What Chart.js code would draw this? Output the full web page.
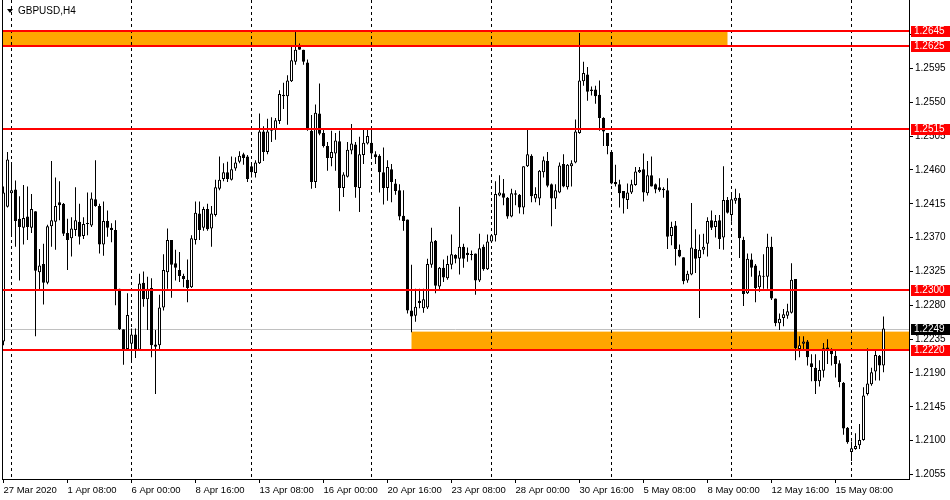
<!DOCTYPE html>
<html lang="en">
<head>
<meta charset="UTF-8">
<title>GBPUSD,H4</title>
<script src="https://cdn.jsdelivr.net/npm/chart.js"></script>
<style>
  html, body { margin: 0; padding: 0; background: #fff; }
</style>
</head>
<body>
<canvas id="chart" width="950" height="500"></canvas>
<script>
// ---- data ----
const symbol = 'GBPUSD,H4';

const opens = [
  1.2232,1.2411,1.2429,1.2434,1.2395,1.2383,1.2398,1.2383,1.2405,1.2324,
  1.2335,1.2310,1.2385,1.2391,1.2417,1.2415,1.2376,1.2369,1.2380,1.2391,
  1.2372,1.2388,1.2386,1.2421,1.2412,1.2361,1.2392,1.2383,1.2380,1.2302,
  1.2248,1.2222,1.2229,1.2241,1.2221,1.2310,1.2288,1.2303,1.2228,1.2227,
  1.2277,1.2324,1.2367,1.2336,1.2327,1.2319,1.2314,1.2304,1.2367,1.2402,
  1.2383,1.2408,1.2382,1.2400,1.2435,1.2448,1.2457,1.2447,1.2462,1.2471,
  1.2481,1.2478,1.2465,1.2456,1.2469,1.2511,1.2484,1.2515,1.2513,1.2525,
  1.2560,1.2558,1.2578,1.2604,1.2625,1.2620,1.2603,1.2512,1.2444,1.2535,
  1.2509,1.2492,1.2476,1.2482,1.2498,1.2436,1.2451,1.2486,1.2494,1.2436,
  1.2480,1.2495,1.2496,1.2481,1.2479,1.2457,1.2436,1.2461,1.2442,1.2433,
  1.2399,1.2394,1.2273,1.2266,1.2286,1.2276,1.2277,1.2334,1.2366,1.2305,
  1.2330,1.2316,1.2334,1.2347,1.2342,1.2358,1.2350,1.2347,1.2349,1.2313,
  1.2358,1.2328,1.2365,1.2373,1.2426,1.2429,1.2423,1.2398,1.2427,1.2427,
  1.2410,1.2465,1.2479,1.2422,1.2422,1.2457,1.2472,1.2441,1.2422,1.2430,
  1.2468,1.2437,1.2465,1.2470,1.2509,1.2578,1.2587,1.2565,1.2567,1.2560,
  1.2529,1.2509,1.2484,1.2444,1.2441,1.2432,1.2420,1.2430,1.2440,1.2457,
  1.2461,1.2429,1.2453,1.2441,1.2437,1.2435,1.2433,1.2372,1.2386,1.2354,
  1.2344,1.2313,1.2321,1.2355,1.2343,1.2354,1.2362,1.2393,1.2384,1.2393,
  1.2370,1.2420,1.2400,1.2419,1.2423,1.2367,1.2296,1.2341,1.2333,1.2304,
  1.2318,1.2318,1.2358,1.2289,1.2256,1.2263,1.2266,1.2270,1.2315,1.2222,
  1.2229,1.2232,1.2203,1.2197,1.2179,1.2193,1.2224,1.2221,1.2213,1.2203,
  1.2177,1.2117,1.2085,1.2089,1.2094,1.2101,1.2162,1.2175,1.2192,1.2213,
  1.2200
];
const highs = [
  1.2438,1.2484,1.2468,1.2446,1.2425,1.2440,1.2438,1.2428,1.2405,1.2355,
  1.2362,1.2387,1.2472,1.2450,1.2445,1.2416,1.2395,1.2397,1.2437,1.2415,
  1.2397,1.2430,1.2430,1.2473,1.2415,1.2418,1.2406,1.2389,1.2393,1.2302,
  1.2248,1.2296,1.2249,1.2249,1.2322,1.2325,1.2318,1.2316,1.2247,1.2294,
  1.2348,1.2382,1.2367,1.2354,1.2351,1.2322,1.2341,1.2373,1.2418,1.2418,
  1.2411,1.2415,1.2412,1.2447,1.2478,1.2469,1.2471,1.2478,1.2477,1.2485,
  1.2483,1.2480,1.2470,1.2473,1.2535,1.2518,1.2528,1.2530,1.2529,1.2566,
  1.2576,1.2586,1.2626,1.2644,1.2628,1.2620,1.2607,1.2533,1.2547,1.2575,
  1.2515,1.2497,1.2512,1.2509,1.2512,1.2457,1.2497,1.2521,1.2497,1.2504,
  1.2515,1.2515,1.2515,1.2485,1.2481,1.2490,1.2473,1.2468,1.2448,1.2441,
  1.2433,1.2394,1.2334,1.2302,1.2302,1.2302,1.2342,1.2383,1.2367,1.2331,
  1.2341,1.2346,1.2374,1.2348,1.2411,1.2362,1.2357,1.2353,1.2349,1.2375,
  1.2361,1.2374,1.2374,1.2445,1.2453,1.2448,1.2424,1.2435,1.2433,1.2428,
  1.2465,1.2515,1.2481,1.2437,1.2460,1.2478,1.2484,1.2442,1.2441,1.2470,
  1.2481,1.2468,1.2473,1.2527,1.2642,1.2604,1.2597,1.2571,1.2572,1.2579,
  1.2530,1.2509,1.2484,1.2467,1.2447,1.2432,1.2442,1.2447,1.2464,1.2464,
  1.2482,1.2472,1.2478,1.2442,1.2449,1.2437,1.2449,1.2391,1.2392,1.2361,
  1.2344,1.2326,1.2416,1.2381,1.2374,1.2375,1.2397,1.2406,1.2400,1.2400,
  1.2465,1.2424,1.2429,1.2435,1.2429,1.2371,1.2349,1.2349,1.2335,1.2326,
  1.2348,1.2375,1.2371,1.2289,1.2269,1.2275,1.2282,1.2336,1.2315,1.2239,
  1.2239,1.2234,1.2215,1.2215,1.2207,1.2230,1.2235,1.2223,1.2221,1.2207,
  1.2178,1.2118,1.2099,1.2110,1.2122,1.2171,1.2223,1.2197,1.2220,1.2214,
  1.2265
];
const lows = [
  1.2227,1.2410,1.2371,1.2358,1.2313,1.2361,1.2367,1.2376,1.2239,1.2301,
  1.2281,1.2308,1.2358,1.2354,1.2393,1.2372,1.2327,1.2345,1.2372,1.2361,
  1.2368,1.2373,1.2384,1.2411,1.2349,1.2346,1.2371,1.2364,1.2280,1.2247,
  1.2201,1.2220,1.2204,1.2210,1.2220,1.2278,1.2247,1.2211,1.2162,1.2222,
  1.2273,1.2302,1.2290,1.2313,1.2311,1.2304,1.2284,1.2303,1.2361,1.2367,
  1.2379,1.2379,1.2358,1.2398,1.2433,1.2445,1.2444,1.2446,1.2459,1.2469,
  1.2467,1.2444,1.2450,1.2450,1.2468,1.2472,1.2481,1.2497,1.2500,1.2521,
  1.2541,1.2520,1.2577,1.2600,1.2620,1.2600,1.2512,1.2435,1.2436,1.2506,
  1.2490,1.2459,1.2465,1.2459,1.2405,1.2424,1.2450,1.2481,1.2423,1.2404,
  1.2468,1.2494,1.2477,1.2468,1.2430,1.2414,1.2419,1.2417,1.2427,1.2393,
  1.2379,1.2269,1.2244,1.2258,1.2276,1.2270,1.2275,1.2330,1.2296,1.2300,
  1.2311,1.2314,1.2328,1.2336,1.2321,1.2330,1.2338,1.2340,1.2294,1.2311,
  1.2326,1.2327,1.2364,1.2365,1.2425,1.2413,1.2395,1.2397,1.2413,1.2402,
  1.2401,1.2464,1.2417,1.2417,1.2413,1.2450,1.2437,1.2385,1.2408,1.2429,
  1.2437,1.2434,1.2438,1.2469,1.2508,1.2572,1.2552,1.2559,1.2548,1.2512,
  1.2492,1.2481,1.2441,1.2438,1.2410,1.2402,1.2408,1.2428,1.2439,1.2456,
  1.2418,1.2426,1.2438,1.2429,1.2431,1.2423,1.2355,1.2360,1.2333,1.2344,
  1.2308,1.2310,1.2320,1.2323,1.2263,1.2348,1.2345,1.2380,1.2370,1.2355,
  1.2354,1.2402,1.2391,1.2415,1.2343,1.2279,1.2295,1.2318,1.2284,1.2298,
  1.2302,1.2302,1.2287,1.2252,1.2247,1.2252,1.2262,1.2269,1.2207,1.2211,
  1.2222,1.2200,1.2179,1.2162,1.2172,1.2184,1.2202,1.2200,1.2184,1.2171,
  1.2108,1.2096,1.2073,1.2088,1.2089,1.2100,1.2160,1.2173,1.2180,1.2180,
  1.2191
];
const closes = [
  1.2430,1.2474,1.2433,1.2392,1.2384,1.2396,1.2384,1.2408,1.2326,1.2333,
  1.2310,1.2385,1.2393,1.2412,1.2413,1.2375,1.2367,1.2382,1.2393,1.2371,
  1.2388,1.2388,1.2422,1.2412,1.2361,1.2392,1.2383,1.2380,1.2300,1.2248,
  1.2222,1.2267,1.2241,1.2221,1.2309,1.2288,1.2302,1.2227,1.2225,1.2277,
  1.2327,1.2367,1.2334,1.2330,1.2319,1.2315,1.2303,1.2369,1.2403,1.2380,
  1.2408,1.2381,1.2402,1.2437,1.2447,1.2457,1.2448,1.2461,1.2470,1.2479,
  1.2476,1.2448,1.2457,1.2470,1.2511,1.2484,1.2511,1.2512,1.2526,1.2561,
  1.2558,1.2579,1.2606,1.2620,1.2620,1.2604,1.2513,1.2444,1.2536,1.2508,
  1.2492,1.2476,1.2484,1.2499,1.2436,1.2454,1.2487,1.2495,1.2437,1.2481,
  1.2496,1.2505,1.2482,1.2477,1.2457,1.2436,1.2464,1.2444,1.2432,1.2398,
  1.2392,1.2273,1.2265,1.2278,1.2283,1.2288,1.2335,1.2365,1.2306,1.2330,
  1.2317,1.2335,1.2348,1.2342,1.2358,1.2342,1.2347,1.2347,1.2313,1.2356,
  1.2328,1.2365,1.2373,1.2428,1.2430,1.2423,1.2398,1.2429,1.2429,1.2410,
  1.2465,1.2481,1.2425,1.2428,1.2459,1.2473,1.2439,1.2422,1.2433,1.2466,
  1.2438,1.2467,1.2469,1.2511,1.2579,1.2589,1.2564,1.2567,1.2558,1.2529,
  1.2511,1.2492,1.2442,1.2441,1.2429,1.2422,1.2430,1.2441,1.2458,1.2460,
  1.2430,1.2453,1.2438,1.2434,1.2433,1.2433,1.2371,1.2384,1.2355,1.2345,
  1.2312,1.2322,1.2357,1.2342,1.2354,1.2358,1.2392,1.2383,1.2392,1.2368,
  1.2420,1.2403,1.2421,1.2423,1.2369,1.2295,1.2342,1.2330,1.2303,1.2320,
  1.2318,1.2358,1.2289,1.2256,1.2262,1.2268,1.2272,1.2314,1.2223,1.2227,
  1.2232,1.2211,1.2198,1.2179,1.2194,1.2223,1.2220,1.2215,1.2202,1.2178,
  1.2116,1.2098,1.2090,1.2093,1.2101,1.2160,1.2176,1.2191,1.2214,1.2200,
  1.2249
];

// time axis labels and the bars they sit on
const timeLabels = ['27 Mar 2020', '1 Apr 08:00', '6 Apr 00:00', '8 Apr 16:00', '13 Apr 08:00',
  '16 Apr 00:00', '20 Apr 16:00', '23 Apr 08:00', '28 Apr 00:00', '30 Apr 16:00',
  '5 May 08:00', '8 May 00:00', '12 May 16:00', '15 May 08:00'];
const labelBars = [0, 16, 32, 48, 64, 80, 96, 112, 128, 144, 160, 176, 192, 208];
const gridBars = [2, 32, 62, 92, 122, 152, 182, 212];

const priceTicks = [1.2055, 1.2100, 1.2145, 1.2190, 1.2235, 1.2280, 1.2325,
  1.2370, 1.2415, 1.2460, 1.2505, 1.2550, 1.2595, 1.2640];

// horizontal levels and the two zones
const levels = [1.2645, 1.2625, 1.2515, 1.2300, 1.2220];
const zoneStart = [-0.375, 102];
const zoneEnd = [181, 226.375];
const zoneTop = [1.2645, 1.2245];
const zoneBottom = [1.2625, 1.2220];
const lastPrice = 1.2249;

const FONT = "'Liberation Sans', Arial, sans-serif";

// build datasets
const idx = opens.map((_, i) => i);
const wickData = idx.map(i => ({ x: i, y: [lows[i], highs[i]] }));
const bodyData = idx.map(i => ({ x: i, y: [Math.min(opens[i], closes[i]), Math.max(opens[i], closes[i])] }));
const bodyFill = idx.map(i => closes[i] >= opens[i] ? '#ffffff' : '#000000');

// no extra label padding around the plot
function noPad(s) {
    s.paddingTop = 0;
    s.paddingBottom = 0;
    s.paddingLeft = 0;
    s.paddingRight = 0;
}

const overlay = {
    id: 'overlay',
    beforeDatasetsDraw(chart) {
        const { ctx, chartArea: a, scales: { x, y } } = chart;
        ctx.save();
        ctx.beginPath();
        ctx.rect(a.left, a.top, a.right - a.left, a.bottom - a.top);
        ctx.clip();

        // orange zones
        ctx.fillStyle = '#FFA500';
        zoneStart.forEach((s, k) => {
            const x0 = x.getPixelForValue(s);
            const x1 = Math.min(x.getPixelForValue(zoneEnd[k]), a.right);
            const y0 = y.getPixelForValue(zoneTop[k]);
            const y1 = y.getPixelForValue(zoneBottom[k]);
            ctx.fillRect(x0, y0, x1 - x0, y1 - y0);
        });

        // dotted vertical grid
        ctx.strokeStyle = '#000';
        ctx.lineWidth = 1;
        ctx.setLineDash([3, 3]);
        gridBars.forEach(b => {
            const px = Math.floor(x.getPixelForValue(b)) + 0.5;
            ctx.beginPath();
            ctx.moveTo(px, a.top);
            ctx.lineTo(px, a.bottom);
            ctx.stroke();
        });
        ctx.setLineDash([]);

        // bid line
        const by = Math.round(y.getPixelForValue(lastPrice)) + 0.5;
        ctx.strokeStyle = '#c0c0c0';
        ctx.beginPath();
        ctx.moveTo(a.left, by);
        ctx.lineTo(a.right, by);
        ctx.stroke();
        ctx.restore();
    },
    afterDatasetsDraw(chart) {
        const { ctx, chartArea: a, scales: { y } } = chart;
        ctx.save();

        // red levels
        ctx.fillStyle = '#ff0000';
        levels.forEach(l => {
            const py = Math.round(y.getPixelForValue(l));
            ctx.fillRect(a.left, py - 1, a.right - a.left, 2);
        });

        // left frame
        ctx.fillStyle = '#000';
        ctx.fillRect(a.left, a.top, 1, a.bottom - a.top);

        // price boxes on the axis
        ctx.font = '10px ' + FONT;
        ctx.textBaseline = 'middle';
        ctx.textAlign = 'left';
        const box = (price, bg) => {
            const py = Math.round(y.getPixelForValue(price));
            ctx.fillStyle = bg;
            ctx.fillRect(a.right + 2, py - 5, 950 - a.right - 2, 11);
            ctx.fillStyle = '#fff';
            ctx.fillText(price.toFixed(4), a.right + 5, py + 0.5);
        };
        levels.forEach(l => box(l, '#ff0000'));
        box(lastPrice, '#000000');

        // symbol caption
        ctx.fillStyle = '#000';
        ctx.beginPath();
        ctx.moveTo(7, 9);
        ctx.lineTo(13, 9);
        ctx.lineTo(10, 13);
        ctx.closePath();
        ctx.fill();
        ctx.fillText(symbol, 18, 11);
        ctx.restore();
    }
};

new Chart(document.getElementById('chart'), {
    type: 'bar',
    data: {
        datasets: [
            {
                label: 'body',
                data: bodyData,
                backgroundColor: bodyFill,
                borderColor: '#000',
                borderWidth: 1,
                borderSkipped: false,
                barThickness: 3,
                minBarLength: 1,
                inflateAmount: 0,
                grouped: false,
                order: 0
            },
            {
                label: 'wick',
                data: wickData,
                backgroundColor: '#000',
                borderWidth: 0,
                barThickness: 1,
                minBarLength: 1,
                inflateAmount: 0,
                grouped: false,
                order: 1
            }
        ]
    },
    options: {
        responsive: false,
        animation: false,
        layout: { padding: { left: 2, top: 0, right: 0, bottom: 0 } },
        plugins: { legend: { display: false }, tooltip: { enabled: false } },
        scales: {
            x: {
                type: 'linear',
                min: -0.375,
                max: 226.375,
                offset: false,
                afterBuildTicks: s => { s.ticks = labelBars.map(v => ({ value: v })); },
                afterFit: s => { s.height = 21; noPad(s); },
                ticks: {
                    autoSkip: false,
                    maxRotation: 0,
                    align: 'start',
                    padding: 2,
                    color: '#000',
                    font: { family: FONT, size: 9.5 },
                    callback: (v, i) => timeLabels[i]
                },
                grid: { offset: false, drawOnChartArea: false, drawTicks: true, tickLength: 4, color: '#000' },
                border: { display: true, color: '#000' }
            },
            y: {
                position: 'right',
                min: 1.2049,
                max: 1.2686,
                afterBuildTicks: s => { s.ticks = priceTicks.map(v => ({ value: v })); },
                afterFit: s => { s.width = 41; noPad(s); },
                ticks: {
                    padding: 2,
                    color: '#000',
                    font: { family: FONT, size: 10 },
                    callback: v => v.toFixed(4)
                },
                grid: { drawOnChartArea: false, tickLength: 4, color: '#000' },
                border: { color: '#000' }
            }
        }
    },
    plugins: [overlay]
});
</script>
</body>
</html>
